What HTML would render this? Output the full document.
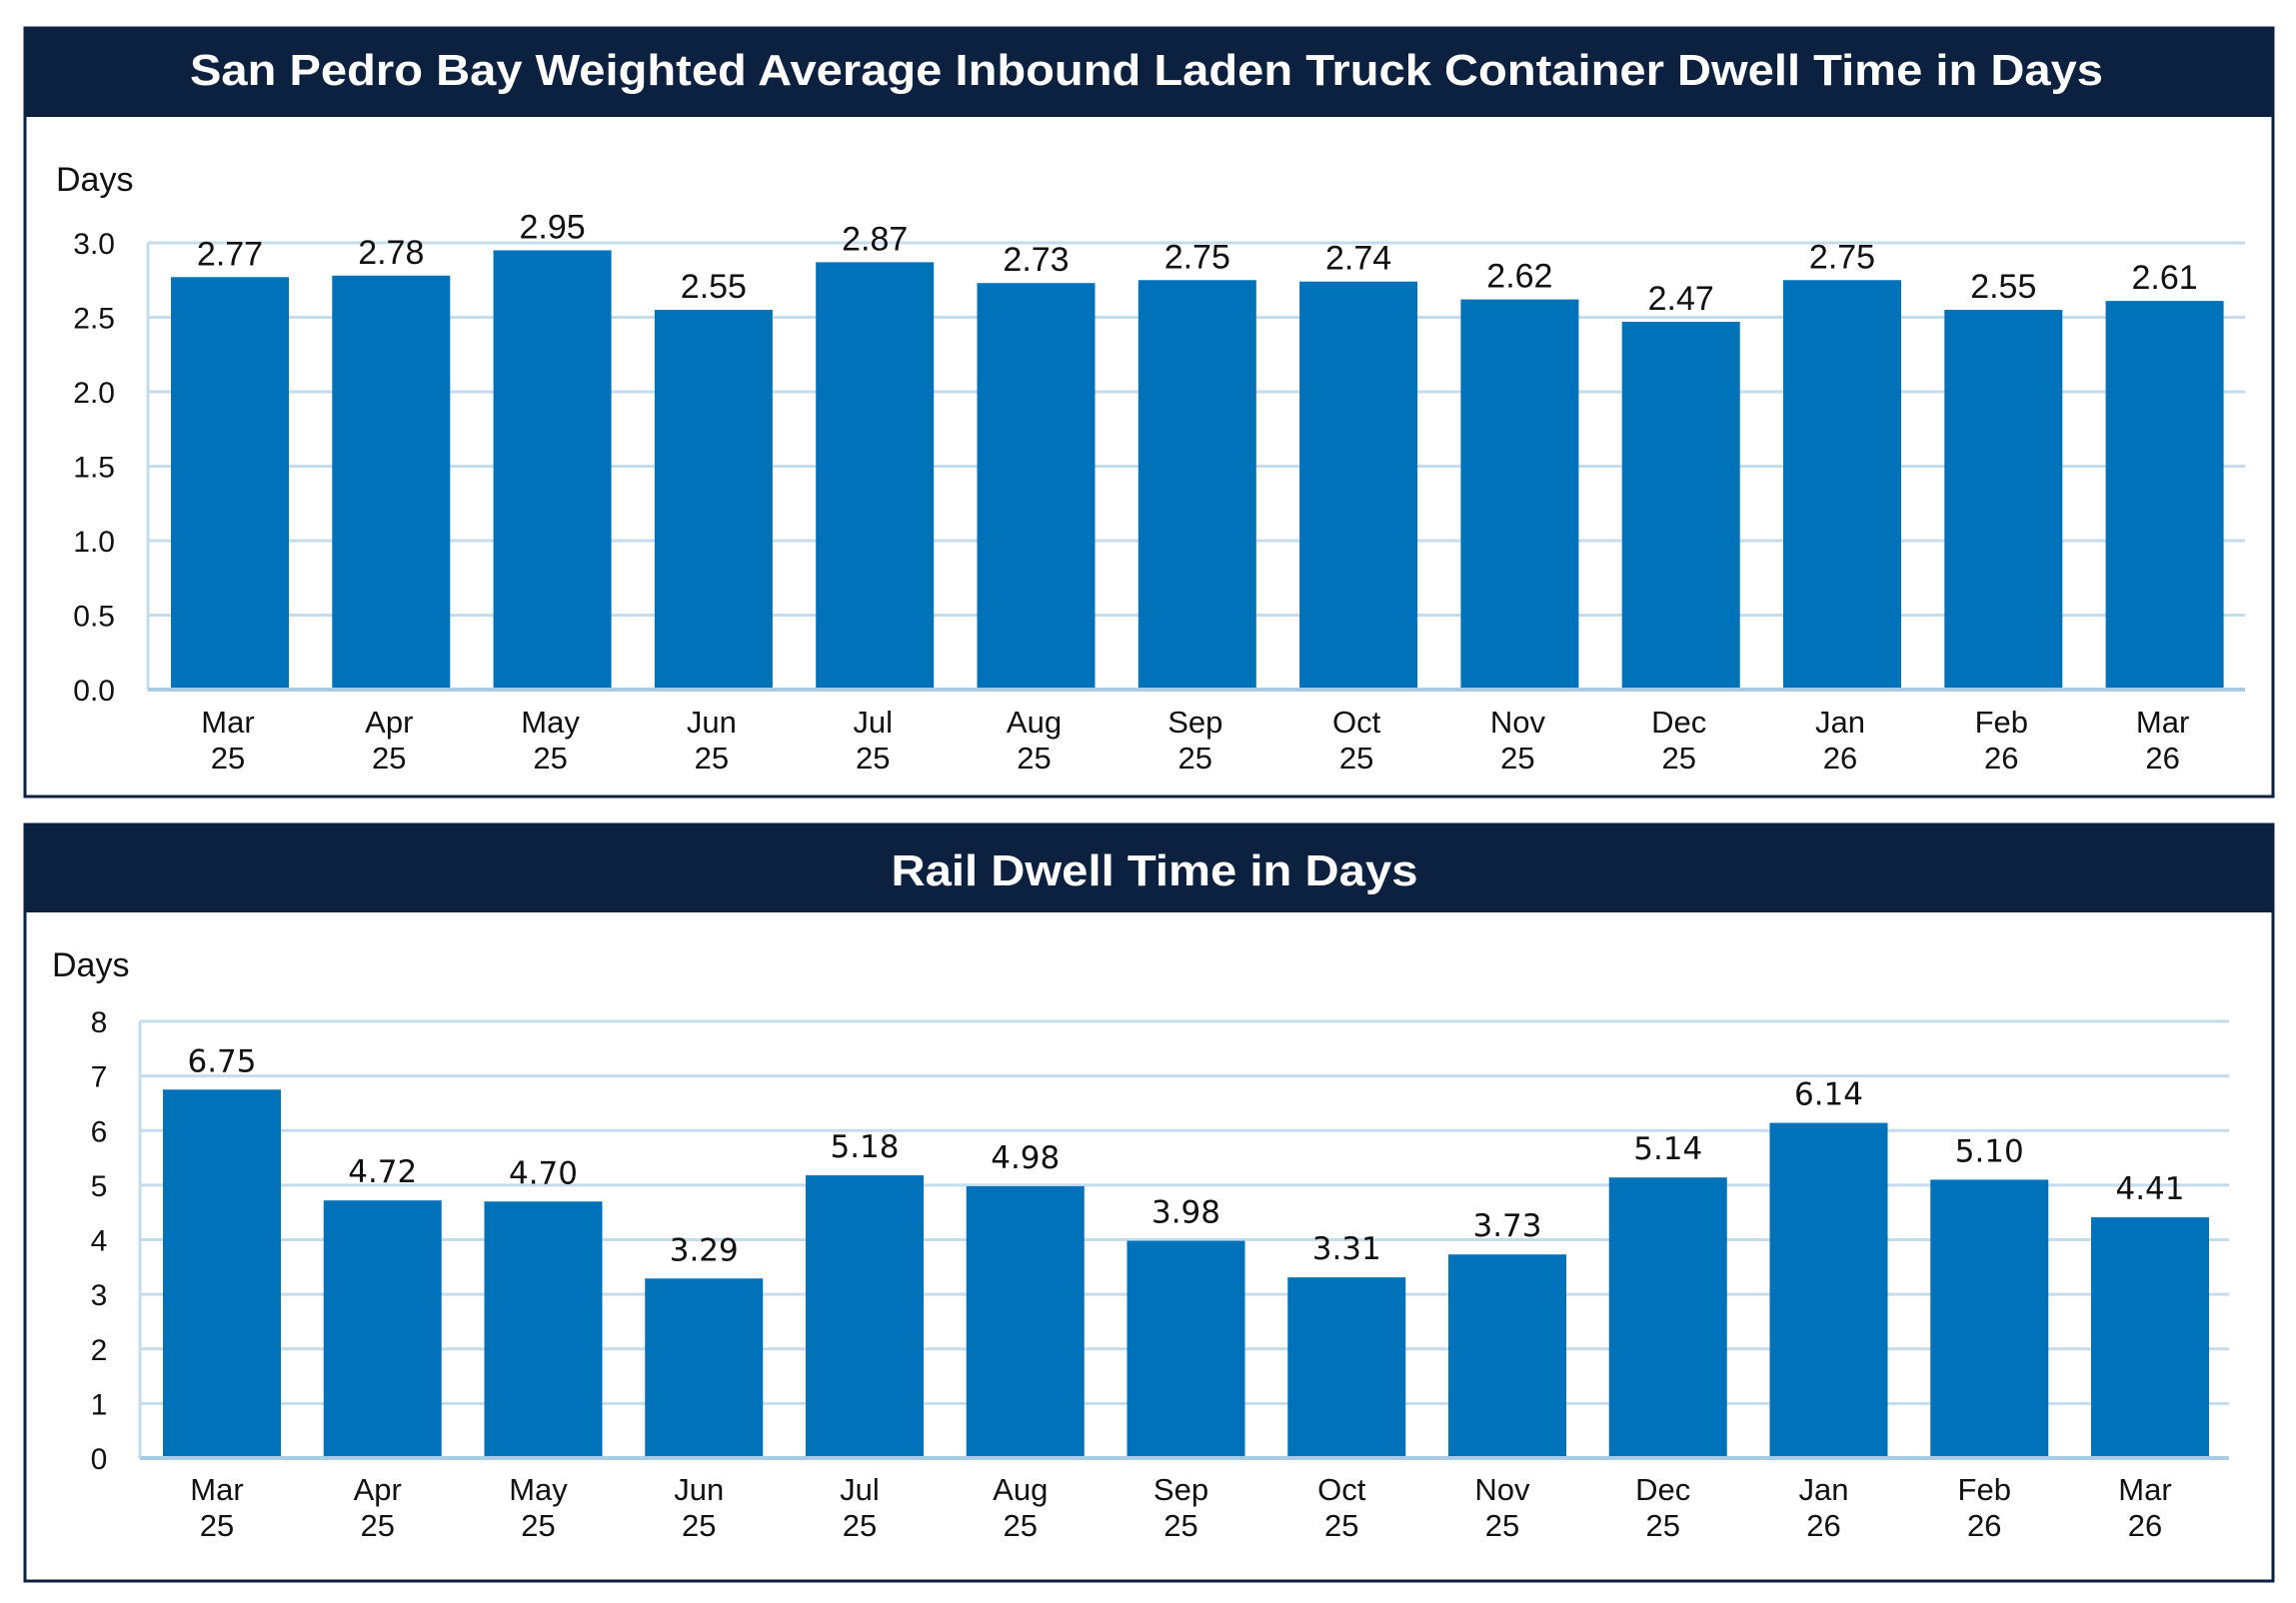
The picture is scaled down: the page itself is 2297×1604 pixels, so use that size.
<!DOCTYPE html>
<html><head><meta charset="utf-8"><style>
html,body{margin:0;padding:0;background:#fff;}
svg{display:block;font-family:"Liberation Sans",sans-serif;}
</style></head><body>
<svg id="svg" width="2297" height="1604" viewBox="0 0 2297 1604">
<rect x="25" y="28" width="2249" height="769" fill="#fff" stroke="#0c2040" stroke-width="3"/>
<rect x="25" y="28" width="2249" height="89" fill="#0c2040"/>
<text x="1147" y="85" fill="#fff" font-size="44" font-weight="bold" text-anchor="middle" textLength="1914" lengthAdjust="spacingAndGlyphs">San Pedro Bay Weighted Average Inbound Laden Truck Container Dwell Time in Days</text>
<text x="56" y="191" font-size="34" fill="#111">Days</text>
<g id="top"></g>
<rect x="25" y="825" width="2249" height="757" fill="#fff" stroke="#0c2040" stroke-width="3"/>
<rect x="25" y="825" width="2249" height="88" fill="#0c2040"/>
<text x="1155" y="886" fill="#fff" font-size="44" font-weight="bold" text-anchor="middle" textLength="527" lengthAdjust="spacingAndGlyphs">Rail Dwell Time in Days</text>
<text x="52" y="977" font-size="34" fill="#111">Days</text>
<g id="bot"></g>
</svg>
<script>
const months = ["Mar","Apr","May","Jun","Jul","Aug","Sep","Oct","Nov","Dec","Jan","Feb","Mar"];
const years = ["25","25","25","25","25","25","25","25","25","25","26","26","26"];
const truckValues = [2.77,2.78,2.95,2.55,2.87,2.73,2.75,2.74,2.62,2.47,2.75,2.55,2.61];
const truckTicks = ["0.0","0.5","1.0","1.5","2.0","2.5","3.0"];
const railValues = [6.75,4.72,4.70,3.29,5.18,4.98,3.98,3.31,3.73,5.14,6.14,5.10,4.41];
const railTicks = ["0","1","2","3","4","5","6","7","8"];
const NS="http://www.w3.org/2000/svg";
function mk(g,tag,attrs,txt){const e=document.createElementNS(NS,tag);for(const k in attrs)e.setAttribute(k,attrs[k]);if(txt!=null)e.textContent=txt;g.appendChild(e);return e;}
function draw(gid,vals,ticks,cfg){
  const g=document.getElementById(gid);
  const tmax=parseFloat(ticks[ticks.length-1]);
  const y=v=>cfg.y0-(v/tmax)*(cfg.y0-cfg.yTop);
  const x=i=>cfg.x0+i*cfg.pitch;
  ticks.forEach(t=>{
    const yy=y(parseFloat(t));
    const l=mk(g,'line',{x1:cfg.axX,x2:cfg.axR,y1:yy,y2:yy,stroke:'#c5dced','stroke-width':3});
    
    
    const tx=mk(g,'text',{x:cfg.tickX,y:yy+11,'font-size':30,fill:'#111','text-anchor':cfg.tickAnchor},t);
    
    
  });
  const ax=mk(g,'line',{x1:cfg.axX,x2:cfg.axX,y1:cfg.yTop,y2:cfg.y0,stroke:'#c5dced','stroke-width':3});
  
  
  vals.forEach((v,i)=>{
    const b=mk(g,'rect',{x:x(i),y:y(v),width:cfg.bw,height:cfg.y0-y(v),fill:'#0072b9'});
    
    
    const c=x(i)+cfg.bw/2;
    const vl=mk(g,'text',{x:c,y:y(v)-cfg.lblOff,'font-size':cfg.lblSize,fill:'#111','text-anchor':'middle','font-family':cfg.lblFont},v.toFixed(2));
    
    
    const m=mk(g,'text',{x:c+cfg.mOff,y:cfg.mY,'font-size':31,fill:'#111','text-anchor':'middle'},months[i]);
    
    
    const yr=mk(g,'text',{x:c+cfg.mOff,y:cfg.mY+36,'font-size':31,fill:'#111','text-anchor':'middle'},years[i]);
    
    
  });
  const base=mk(g,'line',{x1:cfg.axX,x2:cfg.axR,y1:cfg.y0,y2:cfg.y0,stroke:'#a9cce6','stroke-width':4});
  
  
}
draw('top',truckValues,truckTicks,{y0:690,yTop:243,axX:148,axR:2246,x0:171,pitch:161.3,bw:118,tickX:115,tickAnchor:'end',lblOff:12,lblSize:34,lblFont:'Liberation Sans, sans-serif',mY:733,mOff:-2});
draw('bot',railValues,railTicks,{y0:1459,yTop:1022,axX:140,axR:2230,x0:163,pitch:160.75,bw:118,tickX:99,tickAnchor:'middle',lblOff:18,lblSize:31,lblFont:'DejaVu Sans, sans-serif',mY:1501,mOff:-5});
</script>
</body></html>
